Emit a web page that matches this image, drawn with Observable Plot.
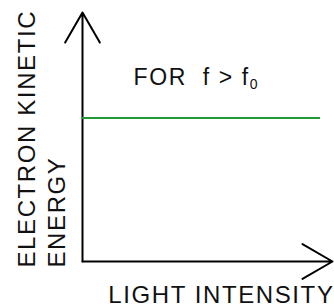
<!DOCTYPE html>
<html><head><meta charset="utf-8">
<script src="https://cdn.jsdelivr.net/npm/d3@7"></script>
<script src="https://cdn.jsdelivr.net/npm/@observablehq/plot@0.6"></script>
<style>body{margin:0;background:#fff} svg text{letter-spacing:1.6px}</style>
</head><body><div id="chart"></div>
<script>
const xDomain = [0, 10];
const yDomain = [0, 10];
const levelX = [0, 9.52];
const levelY = [5.76];
const noteText = "FOR\u00a0 f > f";
const noteSub = "0";
const notePos = [{x: 2.04, y: 7.1}];
const xLabel = "LIGHT INTENSITY";
const yLabel = ["ELECTRON KINETIC", "ENERGY"];

const axes = [
  {x1: xDomain[0], y1: yDomain[0], x2: xDomain[0], y2: yDomain[1]},
  {x1: xDomain[0], y1: yDomain[0], x2: xDomain[1], y2: yDomain[0]}
];

const chart = Plot.plot({
  width: 334, height: 307,
  marginLeft: 82, marginRight: 2, marginTop: 12, marginBottom: 46,
  x: {domain: xDomain, axis: null},
  y: {domain: yDomain, axis: null},
  style: {fontFamily: "'Liberation Sans', Arial, sans-serif", color: "black", background: "white"},
  marks: [
    Plot.arrow(axes, {x1: "x1", y1: "y1", x2: "x2", y2: "y2", stroke: "black", strokeWidth: 2, headLength: 26, headAngle: 60}),
    Plot.ruleY(levelY, {x1: levelX[0], x2: levelX[1], stroke: "#1f9a35", strokeWidth: 2}),
    Plot.text(notePos, {x: "x", y: "y", text: () => noteText, textAnchor: "start", lineAnchor: "bottom", fontSize: 23, fill: "#111"}),
    Plot.text([xLabel], {frameAnchor: "bottom-right", textAnchor: "end", lineAnchor: "bottom", dy: 41, dx: 2, fontSize: 24, fill: "#111"}),
    Plot.text([yLabel.join("\n")], {frameAnchor: "bottom-left", rotate: -90, textAnchor: "start", lineAnchor: "top", lineHeight: 1.25, dx: -69, dy: 6, fontSize: 24, fill: "#111"})
  ]
});
document.getElementById("chart").appendChild(chart);
d3.select(chart).selectAll("text").filter(function() { return this.textContent === noteText; })
  .append("tspan").attr("font-size", 14).attr("dy", 4).text(noteSub);
</script>
</body></html>
